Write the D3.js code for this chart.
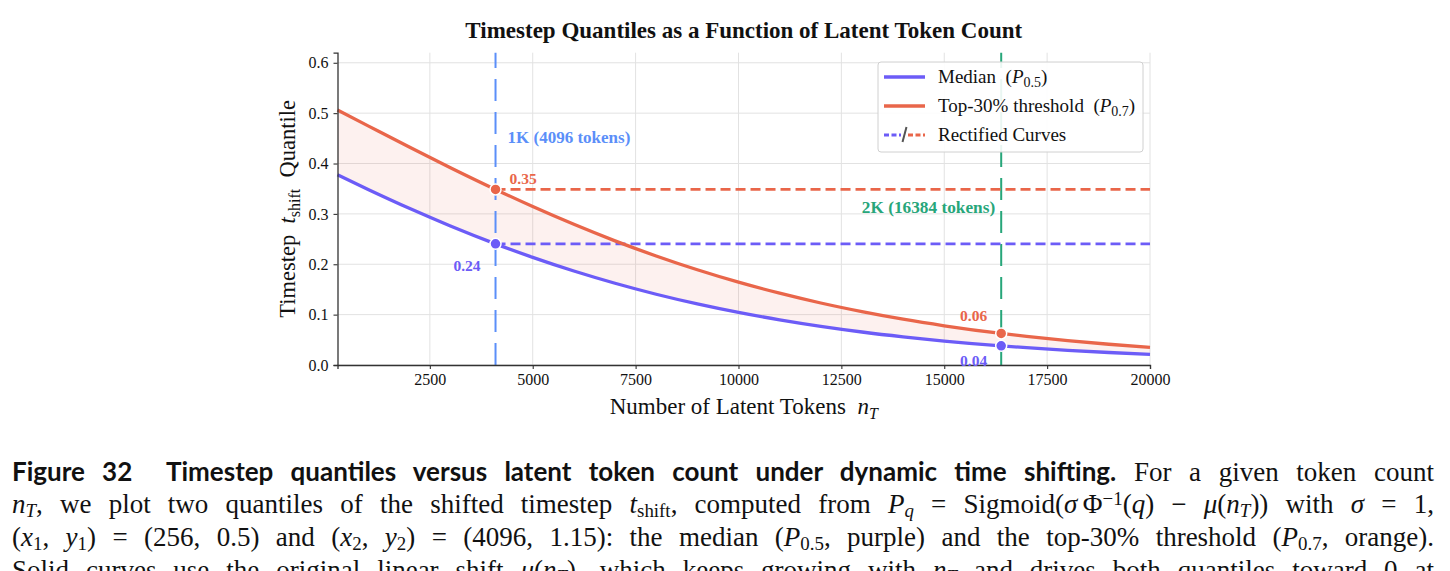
<!DOCTYPE html>
<html>
<head>
<meta charset="utf-8">
<script src="https://cdn.jsdelivr.net/npm/d3@7"></script>
<style>
  html, body { margin: 0; padding: 0; background: #fff; width: 1450px; height: 571px; overflow: hidden; }
  #chart { position: absolute; left: 0; top: 0; }
  .caption { position: absolute; left: 12px; top: 455px; width: 1422px; font-family: "Liberation Serif", "DejaVu Serif", serif; font-size: 24px; color: #111; }
  .caption .ln { height: 33px; line-height: 33px; white-space: nowrap; text-align: left; }
  .caption .ln.just { text-align: justify; text-align-last: justify; }
  .caption b { font-family: Lato, "Open Sans", sans-serif; font-weight: 700; font-size: 24px; }
  .caption sub { font-size: 0.7em; vertical-align: -0.22em; line-height: 0; }
  .caption sup { font-size: 0.7em; vertical-align: 0.45em; line-height: 0; }
</style>
</head>
<body>
<div id="chart"></div>
<div class="caption">
  <div class="ln"><span class="probe"><b>Figure 32&nbsp; Timestep quantiles versus latent token count under dynamic time shifting.</b> <span class="rest">For a given token count</span></span></div>
  <div class="ln"><span class="probe"><i>n</i><sub><i>T</i></sub>, we plot two quantiles of the shifted timestep <i>t</i><sub>shift</sub>, computed from <i>P</i><sub><i>q</i></sub> = Sigmoid(<i>σ</i>&#8201;Φ<sup>−1</sup>(<i>q</i>) − <i>μ</i>(<i>n</i><sub><i>T</i></sub>)) with <i>σ</i> = 1,</span></div>
  <div class="ln"><span class="probe">(<i>x</i><sub>1</sub>, <i>y</i><sub>1</sub>) = (256, 0.5) and (<i>x</i><sub>2</sub>, <i>y</i><sub>2</sub>) = (4096, 1.15): the median (<i>P</i><sub>0.5</sub>, purple) and the top-30% threshold (<i>P</i><sub>0.7</sub>, orange).</span></div>
  <div class="ln"><span class="probe">Solid curves use the original linear shift <i>μ</i>(<i>n</i><sub><i>T</i></sub>), which keeps growing with <i>n</i><sub><i>T</i></sub> and drives both quantiles toward 0 at</span></div>
</div>
<script>
// data
const tokens = [256, 1000, 2000, 3000, 4096, 5000, 6000, 7000, 8000, 9000, 10000,
                11000, 12000, 13000, 14000, 15000, 16384, 17000, 18000, 19000, 20000];
const medianVals = [0.3775, 0.3484, 0.3110, 0.2760, 0.2405, 0.2137, 0.1866, 0.1623, 0.1405, 0.1213, 0.1044,
                    0.0896, 0.0767, 0.0655, 0.0559, 0.0476, 0.0380, 0.0344, 0.0292, 0.0248, 0.0210];
const top30Vals = [0.5061, 0.4747, 0.4327, 0.3917, 0.3485, 0.3146, 0.2793, 0.2465, 0.2165, 0.1891, 0.1645,
                   0.1426, 0.1231, 0.1060, 0.0909, 0.0779, 0.0626, 0.0568, 0.0484, 0.0412, 0.0350];
const markerTokens = [4096, 16384];
const markerNames = ["1K (4096 tokens)", "2K (16384 tokens)"];
const markerMedian = [0.2405, 0.0380];
const markerTop30 = [0.3485, 0.0626];
const markerLabelsMedian = ["0.24", "0.04"];
const markerLabelsTop30 = ["0.35", "0.06"];
const xTicks = [2500, 5000, 7500, 10000, 12500, 15000, 17500, 20000];
const yTicks = [0.0, 0.1, 0.2, 0.3, 0.4, 0.5, 0.6];

const purple = "#6c5cf7";
const orange = "#e9664a";
const blue = "#5b8ff9";
const green = "#27a67a";
const serif = "'Liberation Serif', 'Times New Roman', serif";

const margin = {top: 52.7, right: 300, bottom: 206, left: 337.5};
const W = 1450, H = 571;
const width = W - margin.left - margin.right;
const height = H - margin.top - margin.bottom;

const svg = d3.select("#chart").append("svg")
    .attr("width", W).attr("height", 445)
    .attr("font-family", serif)
    .style("font-family", serif);

const g = svg.append("g")
    .attr("transform", "translate(" + margin.left + "," + margin.top + ")");

const x = d3.scaleLinear().domain([256, 20000]).range([0, width]);
const y = d3.scaleLinear().domain([0, 0.62]).range([height, 0]);

// grid
g.append("g").selectAll("line").data(xTicks).enter().append("line")
    .attr("x1", d => x(d)).attr("x2", d => x(d))
    .attr("y1", 0).attr("y2", height)
    .attr("stroke", "#e2e2e2").attr("stroke-width", 1);
g.append("g").selectAll("line").data(yTicks).enter().append("line")
    .attr("x1", 0).attr("x2", width)
    .attr("y1", d => y(d)).attr("y2", d => y(d))
    .attr("stroke", "#e2e2e2").attr("stroke-width", 1);

// shaded band between the curves
const band = tokens.map((t, i) => ({t: t, lo: medianVals[i], hi: top30Vals[i]}));
g.append("path")
    .datum(band)
    .attr("fill", orange).attr("fill-opacity", 0.09)
    .attr("d", d3.area()
        .x(d => x(d.t))
        .y0(d => y(d.lo))
        .y1(d => y(d.hi))
        .curve(d3.curveMonotoneX));

// vertical reference lines
const vColors = [blue, green];
g.append("g").selectAll("line").data(markerTokens).enter().append("line")
    .attr("x1", d => x(d)).attr("x2", d => x(d))
    .attr("y1", height).attr("y2", 0)
    .attr("stroke", (d, i) => vColors[i]).attr("stroke-width", 2)
    .attr("stroke-dasharray", "22,11");

// rectified (flat) lines
g.append("line")
    .attr("x1", x(markerTokens[0])).attr("x2", x(20000))
    .attr("y1", y(markerTop30[0])).attr("y2", y(markerTop30[0]))
    .attr("stroke", orange).attr("stroke-width", 2.8).attr("stroke-dasharray", "10,5");
g.append("line")
    .attr("x1", x(markerTokens[0])).attr("x2", x(20000))
    .attr("y1", y(markerMedian[0])).attr("y2", y(markerMedian[0]))
    .attr("stroke", purple).attr("stroke-width", 2.8).attr("stroke-dasharray", "10,5");

// curves
const line = d3.line().x(d => x(d[0])).y(d => y(d[1])).curve(d3.curveMonotoneX);
g.append("path")
    .datum(tokens.map((t, i) => [t, top30Vals[i]]))
    .attr("fill", "none").attr("stroke", orange).attr("stroke-width", 3.3).attr("d", line);
g.append("path")
    .datum(tokens.map((t, i) => [t, medianVals[i]]))
    .attr("fill", "none").attr("stroke", purple).attr("stroke-width", 3.3).attr("d", line);

// axes
const xAxis = g.append("g")
    .attr("transform", "translate(0," + height + ")")
    .call(d3.axisBottom(x).tickValues(xTicks).tickFormat(d3.format("d")).tickSize(4).tickPadding(5));
const yAxis = g.append("g")
    .call(d3.axisLeft(y).tickValues(yTicks).tickFormat(d3.format(".1f")).tickSize(4).tickPadding(5));
[xAxis, yAxis].forEach(a => {
    a.attr("font-family", serif).attr("font-size", 16);
    a.select(".domain").attr("stroke", "#333").attr("stroke-width", 1.3);
    a.selectAll(".tick line").attr("stroke", "#333").attr("stroke-width", 1.1);
    a.selectAll(".tick text").attr("fill", "#111");
});

// markers
const pts = [];
markerTokens.forEach((t, i) => {
    pts.push({t: t, v: markerTop30[i], c: orange});
    pts.push({t: t, v: markerMedian[i], c: purple});
});
g.append("g").selectAll("circle").data(pts).enter().append("circle")
    .attr("cx", d => x(d.t)).attr("cy", d => y(d.v)).attr("r", 5.5)
    .attr("fill", d => d.c).attr("stroke", "#fff").attr("stroke-width", 1.5);

// value labels
const lbl = g.append("g").style("font-weight", "bold").style("font-size", "15.5px");
lbl.append("text").attr("x", x(markerTokens[0]) + 14).attr("y", y(markerTop30[0]) - 5)
    .attr("fill", orange).text(markerLabelsTop30[0]);
lbl.append("text").attr("x", x(markerTokens[0]) - 15).attr("y", y(markerMedian[0]) + 27)
    .attr("text-anchor", "end").attr("fill", purple).text(markerLabelsMedian[0]);
lbl.append("text").attr("x", x(markerTokens[1]) - 14).attr("y", y(markerTop30[1]) - 12)
    .attr("text-anchor", "end").attr("fill", orange).text(markerLabelsTop30[1]);
lbl.append("text").attr("x", x(markerTokens[1]) - 14).attr("y", y(markerMedian[1]) + 20)
    .attr("text-anchor", "end").attr("fill", purple).text(markerLabelsMedian[1]);

// reference line names
g.append("text").attr("x", x(markerTokens[0]) + 12).attr("y", y(0.44))
    .attr("fill", blue).style("font-weight", "bold").style("font-size", "17px")
    .text(markerNames[0]);
g.append("text").attr("x", x(markerTokens[1]) - 6).attr("y", y(0.302))
    .attr("text-anchor", "end")
    .attr("fill", green).style("font-weight", "bold").style("font-size", "17.3px")
    .text(markerNames[1]);

// legend
const lg = svg.append("g").attr("transform", "translate(878,62)");
lg.append("rect").attr("width", 265).attr("height", 90).attr("rx", 3)
    .attr("fill", "#fff").attr("fill-opacity", 0.9).attr("stroke", "#d0d0d0").attr("stroke-width", 1);
lg.append("line").attr("x1", 6).attr("x2", 47).attr("y1", 15).attr("y2", 15)
    .attr("stroke", purple).attr("stroke-width", 3.3);
lg.append("line").attr("x1", 6).attr("x2", 47).attr("y1", 44).attr("y2", 44)
    .attr("stroke", orange).attr("stroke-width", 3.3);
lg.append("line").attr("x1", 6).attr("x2", 23).attr("y1", 73).attr("y2", 73)
    .attr("stroke", purple).attr("stroke-width", 2.8).attr("stroke-dasharray", "5,2.5");
lg.append("line").attr("x1", 30).attr("x2", 47).attr("y1", 73).attr("y2", 73)
    .attr("stroke", orange).attr("stroke-width", 2.8).attr("stroke-dasharray", "5,2.5");
lg.append("line").attr("x1", 24.5).attr("x2", 28.5).attr("y1", 80).attr("y2", 65)
    .attr("stroke", "#555").attr("stroke-width", 2);

const legTxt = lg.append("g").style("font-size", "19px").attr("fill", "#111");
const t1 = legTxt.append("text").attr("x", 60).attr("y", 21);
t1.append("tspan").text("Median\u2002(");
t1.append("tspan").style("font-style", "italic").text("P");
t1.append("tspan").attr("dy", 4).style("font-size", "14px").text("0.5");
t1.append("tspan").attr("dy", -4).text(")");
const t2 = legTxt.append("text").attr("x", 60).attr("y", 50);
t2.append("tspan").text("Top-30% threshold\u2002(");
t2.append("tspan").style("font-style", "italic").text("P");
t2.append("tspan").attr("dy", 4).style("font-size", "14px").text("0.7");
t2.append("tspan").attr("dy", -4).text(")");
legTxt.append("text").attr("x", 60).attr("y", 79).text("Rectified Curves");

// title
svg.append("text").attr("x", margin.left + width / 2).attr("y", 38)
    .attr("text-anchor", "middle").style("font-weight", "bold").style("font-size", "23px")
    .attr("fill", "#111").text("Timestep Quantiles as a Function of Latent Token Count");

// x label
const xl = svg.append("text").attr("x", margin.left + width / 2).attr("y", 414)
    .attr("text-anchor", "middle").style("font-size", "23px").attr("fill", "#111");
xl.append("tspan").text("Number of Latent Tokens\u2002");
xl.append("tspan").style("font-style", "italic").text("n");
xl.append("tspan").attr("dy", 5).style("font-style", "italic").style("font-size", "16px").text("T");

// y label
const yl = svg.append("text")
    .attr("transform", "translate(295," + (margin.top + height / 2) + ") rotate(-90)")
    .attr("text-anchor", "middle").style("font-size", "22.5px").attr("fill", "#111");
yl.append("tspan").text("Timestep\u2002");
yl.append("tspan").style("font-style", "italic").text("t");
yl.append("tspan").attr("dy", 5).style("font-size", "16px").text("shift");
yl.append("tspan").attr("dy", -5).text("\u2002Quantile");

// caption: bold lead-in sized to its width in the figure; serif body sized up
// to fill the full lines, remainder justified
const capW = 1422;
const cap = d3.select(".caption");
const bold = cap.select("b");
const bw = bold.node().getBoundingClientRect().width;
bold.style("font-size", Math.max(21, Math.min(26, 24 * 1086 / bw)).toFixed(2) + "px");
let k = 10;
cap.selectAll(".ln").each(function(d, i) {
    if (i === 0) return;
    const w = d3.select(this).select(".probe").node().getBoundingClientRect().width;
    k = Math.min(k, capW * 0.985 / w);
});
const fs = Math.min(27, 24 * k);
cap.style("font-size", fs.toFixed(2) + "px");
bold.style("font-size", (parseFloat(bold.style("font-size"))).toFixed(2) + "px");
cap.selectAll(".ln").classed("just", true);
</script>
</body>
</html>
